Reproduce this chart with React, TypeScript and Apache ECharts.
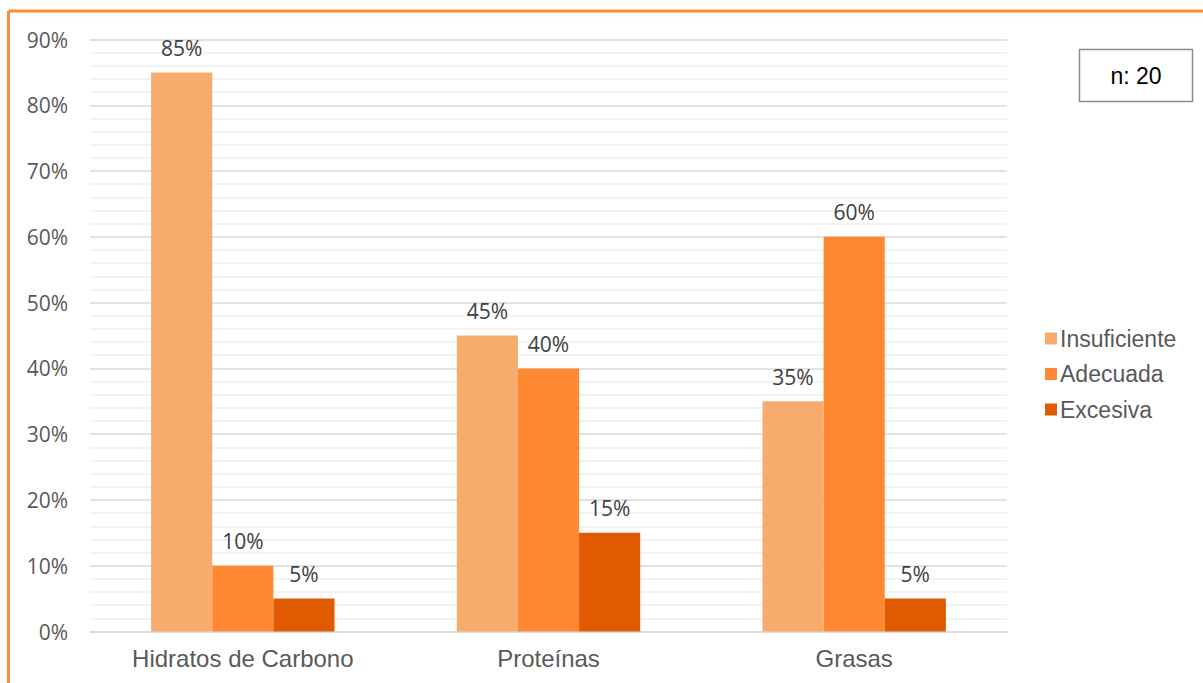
import React, { useEffect, useRef } from "react";
import * as echarts from "echarts";

const categories = ["Hidratos de Carbono", "Proteínas", "Grasas"];
const seriesNames = ["Insuficiente", "Adecuada", "Excesiva"];
const insuficiente = [85, 45, 35];
const adecuada = [10, 40, 60];
const excesiva = [5, 15, 5];
const colors = ["#F7AB6C", "#FF8833", "#E05A00"];
const sampleLabel = "n: 20";

export default function App() {
  const ref = useRef<HTMLDivElement>(null);

  useEffect(() => {
    if (!ref.current) return;
    const chart = echarts.init(ref.current, null, { renderer: "svg" });
    const values = [insuficiente, adecuada, excesiva];
    chart.setOption({
      animation: false,
      backgroundColor: "#ffffff",
      grid: { left: 90, right: 196, top: 39.5, bottom: 51.5, containLabel: false },
      legend: {
        orient: "vertical",
        left: 1040,
        top: 322,
        icon: "rect",
        itemWidth: 12,
        itemHeight: 12,
        itemGap: 12.5,
        data: seriesNames,
        textStyle: { fontFamily: "Liberation Sans", fontSize: 23, color: "#595959", padding: [0, 0, 0, -2] },
      },
      xAxis: {
        type: "category",
        data: categories,
        axisLine: { show: true, lineStyle: { color: "#d9d9d9", width: 1.5 } },
        axisTick: { show: false },
        axisLabel: { fontFamily: "Liberation Sans", fontSize: 24, color: "#595959", margin: 15 },
      },
      yAxis: {
        type: "value",
        min: 0,
        max: 90,
        interval: 10,
        axisLine: { show: false },
        axisTick: { show: false },
        axisLabel: { formatter: "{value}%", fontFamily: "Open Sans", fontSize: 21, color: "#595959", margin: 22 },
        splitLine: { lineStyle: { color: "#d9d9d9", width: 1.5 } },
        minorTick: { show: false, splitNumber: 5 },
        minorSplitLine: { show: true, lineStyle: { color: "#efefef", width: 1.5 } },
      },
      series: seriesNames.map((name, i) => ({
        name,
        type: "bar",
        data: values[i],
        barGap: "0%",
        barCategoryGap: "40%",
        itemStyle: { color: colors[i] },
        label: {
          show: true,
          position: "top",
          distance: 14,
          formatter: "{c}%",
          fontFamily: "Open Sans",
          fontSize: 21,
          color: "#404040",
        },
      })),
      graphic: [
        { type: "line", shape: { x1: 8.5, y1: 11, x2: 1203, y2: 11 }, style: { stroke: "#FF8A33", lineWidth: 3 } },
        { type: "line", shape: { x1: 8.5, y1: 11, x2: 8.5, y2: 683 }, style: { stroke: "#FF8A33", lineWidth: 3 } },
        {
          type: "rect",
          shape: { x: 1079.5, y: 49.5, width: 113, height: 52 },
          style: { fill: "#ffffff", stroke: "#8c8c8c", lineWidth: 1.5 },
        },
        {
          type: "text",
          x: 1136,
          y: 76,
          style: {
            text: sampleLabel,
            fontFamily: "Liberation Sans",
            fontSize: 23,
            fill: "#000000",
            align: "center",
            verticalAlign: "middle",
          },
        },
      ],
    });
    return () => chart.dispose();
  }, []);

  return (
    <div
      ref={ref}
      style={{ position: "fixed", left: 0, top: 0, width: 1203, height: 683, background: "#ffffff" }}
    />
  );
}
